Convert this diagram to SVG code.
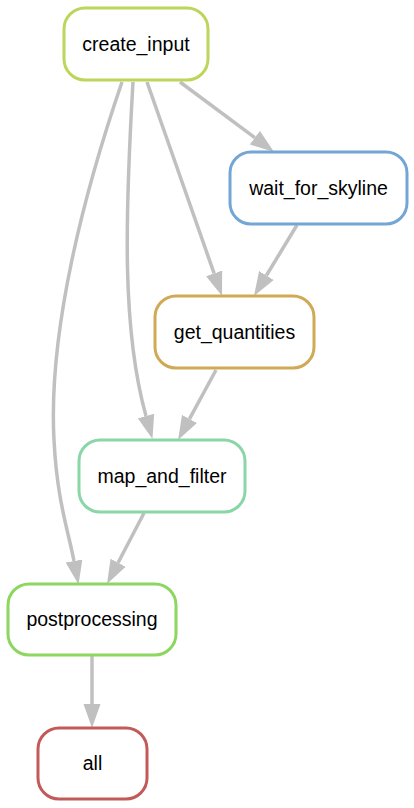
<svg xmlns="http://www.w3.org/2000/svg" width="414" height="808" viewBox="0 0 414 808">
<style>
.node rect{fill:#ffffff;stroke-width:3}
.node text{font-family:"Liberation Sans",Arial,sans-serif;font-size:19.5px;fill:#000;text-anchor:middle}
.edge path{fill:none;stroke:#c0c0c0;stroke-width:3.5;marker-end:url(#ah)}
</style>
<defs>
<marker id="ah" markerUnits="userSpaceOnUse" markerWidth="24" markerHeight="18" refX="0" refY="9" orient="auto" viewBox="0 0 24 18">
<path d="M0,0.5 L24,9 L0,17.5 z" fill="#c0c0c0"/>
</marker>
</defs>
<rect width="414" height="808" fill="#ffffff"/>
<g id="edges" class="edge">
<path d="M180,82 L254.8,137.7"/>
<path d="M147,82 L214.1,273.4"/>
<path d="M297,225 L266.4,275.5"/>
<path d="M133,82 C125,220 122,330 146,416"/>
<path d="M216,370 L189.5,418.9"/>
<path d="M122,82 C85,190 48,330 54,440 C57,500 68,530 74,561"/>
<path d="M144,513 L118.1,562.7"/>
<path d="M92,656 L92,704"/>
</g>
<g id="create_input" class="node"><rect x="64" y="8" width="144" height="72" rx="21" stroke="#bcd65c"/><text x="136" y="51">create_input</text></g>
<g id="wait_for_skyline" class="node"><rect x="230" y="152" width="177" height="72" rx="21" stroke="#73a6d5"/><text x="318.5" y="194.5">wait_for_skyline</text></g>
<g id="get_quantities" class="node"><rect x="155" y="296" width="159" height="72" rx="21" stroke="#cfa955"/><text x="234.5" y="338.5">get_quantities</text></g>
<g id="map_and_filter" class="node"><rect x="79" y="440" width="166" height="72" rx="21" stroke="#8ad6a7"/><text x="162" y="482.5">map_and_filter</text></g>
<g id="postprocessing" class="node"><rect x="8" y="584" width="168" height="71" rx="21" stroke="#8dd65f"/><text x="92" y="626">postprocessing</text></g>
<g id="all" class="node"><rect x="38" y="728" width="109" height="71" rx="21" stroke="#c25a5a"/><text x="92.5" y="770">all</text></g>
</svg>
